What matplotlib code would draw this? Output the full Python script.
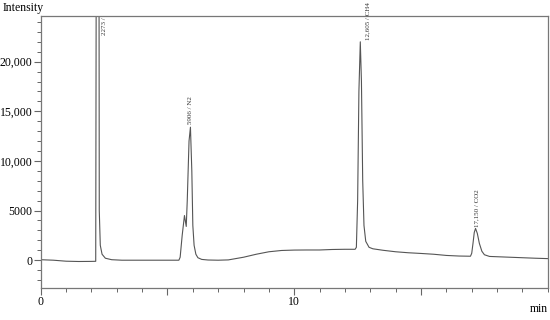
import matplotlib.pyplot as plt
from matplotlib.ticker import MultipleLocator

# chromatogram trace (time in min, intensity)
time = [0, 0.5, 1.0, 1.5, 2.0, 2.17,
        2.19, 2.273, 2.30, 2.31, 2.35, 2.42, 2.55, 2.8, 3.2,
        4.0, 5.0, 5.45,
        5.50, 5.58, 5.67, 5.74, 5.78, 5.85, 5.906, 5.96, 6.0, 6.05, 6.12, 6.2, 6.35, 6.6,
        7.0, 7.4, 8.0, 8.5, 9.0, 9.5, 10.0, 10.5, 11.0, 11.5, 12.0, 12.4,
        12.45, 12.50, 12.55, 12.605, 12.65, 12.70, 12.75, 12.82, 12.95, 13.1,
        13.5, 14.0, 14.5, 15.0, 15.5, 16.0, 16.5, 16.95,
        17.0, 17.05, 17.10, 17.15, 17.22, 17.30, 17.40, 17.5, 17.7,
        18.0, 18.5, 19.0, 19.5, 20.0]
intensity = [50, 0, -100, -130, -120, -110,
             30000, 60000, 30000, 5000, 1500, 600, 200, 50, 0,
             0, 0, 0,
             300, 2500, 4500, 3400, 6000, 12000, 13400, 9000, 3500, 1500, 600, 250, 80, 20,
             0, 30, 300, 600, 850, 980, 1020, 1030, 1030, 1080, 1100, 1100,
             1300, 6000, 17000, 22000, 18000, 8000, 3500, 1900, 1300, 1150,
             1000, 850, 750, 680, 600, 480, 420, 400,
             700, 1700, 2800, 3200, 2700, 1700, 900, 550, 380,
             350, 300, 250, 200, 160]

# peak annotations
peak_labels = ["2273 /", "5906 / N2", "12,605 / CH4", "17,150 / CO2"]
peak_x = [2.52, 5.906, 12.9, 17.22]
peak_y = [24450, 13700, 22200, 3350]
peak_va = ["top", "bottom", "bottom", "bottom"]

ytick_vals = [0, 5000, 10000, 15000, 20000]
ytick_labels = ["0", "5000", "10,000", "15,000", "20,000"]
xtick_vals = [0, 5, 10, 15]
xtick_labels = ["0", "", "10", ""]

plt.rcParams['font.family'] = ['Liberation Serif', 'DejaVu Serif']

fig = plt.figure(figsize=(5.5, 3.2), dpi=100)
ax = fig.add_axes([0.074, 0.1, 0.922, 0.85])

ax.plot(time, intensity, color='#555555', lw=0.8)

ax.set_xlim(0, 20)
ax.set_ylim(-2800, 24600)

ax.set_yticks(ytick_vals)
ax.set_yticklabels(ytick_labels)
ax.yaxis.set_minor_locator(MultipleLocator(1000))
ax.set_xticks(xtick_vals)
ax.set_xticklabels(xtick_labels)
ax.xaxis.set_minor_locator(MultipleLocator(1))

ax.tick_params(which='major', length=5, width=0.8, color='#666666', labelsize=8.5, pad=1)
ax.tick_params(which='minor', length=3, width=0.7, color='#666666')
for s in ax.spines.values():
    s.set_color('#777777')
    s.set_linewidth(0.9)

for lab, x, y, va in zip(peak_labels, peak_x, peak_y, peak_va):
    ax.text(x, y, lab, rotation=90, ha='center', va=va, fontsize=5,
            color='#333333', clip_on=False)

fig.text(0.005, 0.975, "Intensity", fontsize=8.5, ha='left', va='center')
fig.text(0.997, 0.035, "min", fontsize=8.5, ha='right', va='center')

fig.savefig('out.png', dpi=100)
